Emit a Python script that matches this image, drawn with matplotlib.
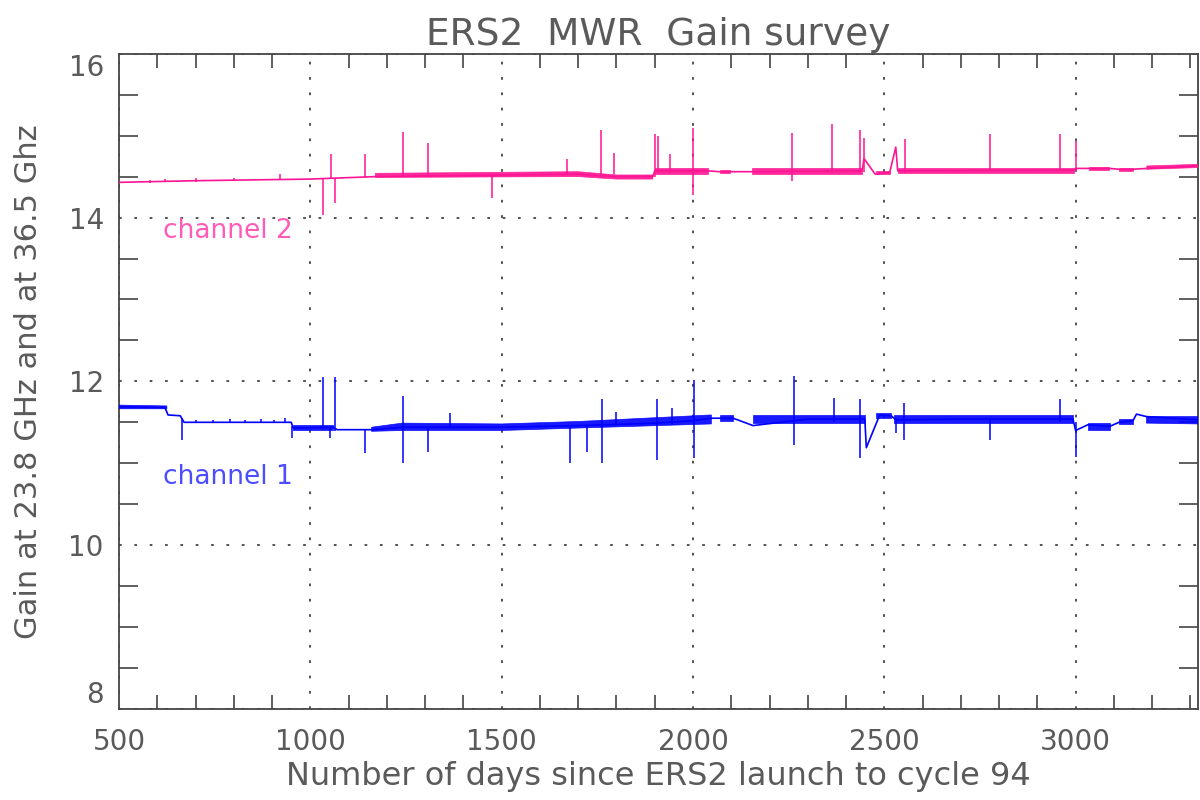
import numpy as np
import matplotlib
matplotlib.use('Agg')
import matplotlib.pyplot as plt
from matplotlib.ticker import MultipleLocator

# ---- data ----
# channel 1 (23.8 GHz) base trace
ch1_days = [500, 620, 628, 660, 670, 950, 955, 1060, 1070, 1140, 1160, 1240, 1500, 1700,
            1900, 2000, 2048, 2070, 2105, 2157, 2300, 2449, 2453, 2488, 2518, 2530, 2700,
            2993, 3000, 3032, 3089, 3113, 3150, 3159, 3185, 3320]
ch1_gain = [11.69, 11.68, 11.59, 11.58, 11.50, 11.50, 11.43, 11.44, 11.41, 11.41, 11.41,
            11.44, 11.44, 11.46, 11.49, 11.52, 11.55, 11.55, 11.55, 11.46, 11.54, 11.54,
            11.19, 11.59, 11.58, 11.53, 11.54, 11.54, 11.40, 11.47, 11.45, 11.50, 11.52,
            11.60, 11.57, 11.53]

# channel 1 noise band (nan = gap)
ch1_band_days = [500, 625, np.nan, 955, 1060, np.nan, 1160, 1240, 1500,
                 1700, 2048, np.nan, 2070, 2105, np.nan, 2157, 2449, np.nan, 2478, 2518,
                 np.nan, 2526, 2993, np.nan, 3032, 3089, np.nan, 3113, 3150, np.nan, 3185, 3320]
ch1_band_lo = [11.665, 11.665, np.nan, 11.41, 11.41, np.nan, 11.39,
               11.40, 11.40, 11.43, 11.48, np.nan, 11.51, 11.51, np.nan, 11.49, 11.49,
               np.nan, 11.55, 11.55, np.nan, 11.49, 11.49, np.nan, 11.41, 11.41, np.nan,
               11.48, 11.48, np.nan, 11.49, 11.48]
ch1_band_hi = [11.71, 11.70, np.nan, 11.47, 11.47, np.nan, 11.44,
               11.49, 11.48, 11.51, 11.59, np.nan, 11.59, 11.59, np.nan, 11.59, 11.59,
               np.nan, 11.61, 11.61, np.nan, 11.59, 11.59, np.nan, 11.49, 11.49, np.nan,
               11.54, 11.54, np.nan, 11.57, 11.57]

# channel 1 spikes
ch1_spike_days = [665, 700, 745, 790, 830, 870, 905, 935, 952, 1033, 1051, 1064, 1142, 1242,
                  1307, 1364, 1678, 1722, 1761, 1800, 1905, 1946, 2003, 2264, 2368, 2437,
                  2531, 2552, 2775, 2958, 3000]
ch1_spike_lo = [11.29, 11.50, 11.50, 11.50, 11.50, 11.50, 11.50, 11.50, 11.31, 11.42, 11.31,
                11.40, 11.12, 11.00, 11.14, 11.44, 11.00, 11.14, 11.00, 11.46, 11.04, 11.48,
                11.07, 11.22, 11.50, 11.07, 11.37, 11.29, 11.29, 11.50, 11.08]
ch1_spike_hi = [11.55, 11.53, 11.53, 11.54, 11.53, 11.54, 11.53, 11.55, 11.45, 12.05, 11.44,
                12.05, 11.41, 11.82, 11.44, 11.61, 11.44, 11.46, 11.78, 11.63, 11.79, 11.67,
                12.02, 12.07, 11.80, 11.78, 11.55, 11.73, 11.54, 11.78, 11.50]

# channel 2 (36.5 GHz) base trace
ch2_days = [500, 700, 1000, 1170, 1500, 1704, 1720, 1800, 1895, 1900, 2039, 2070, 2096, 2153,
            2442, 2447, 2476, 2514, 2530, 2535, 2995, 3000, 3036, 3088, 3113, 3150, 3186, 3320]
ch2_gain = [14.43, 14.45, 14.47, 14.50, 14.52, 14.53, 14.52, 14.50, 14.50, 14.57, 14.57,
            14.56, 14.56, 14.56, 14.57, 14.72, 14.53, 14.55, 14.86, 14.57, 14.58, 14.60,
            14.60, 14.60, 14.59, 14.59, 14.60, 14.63]

ch2_band_days = [1170, 1700, 1800, 1895, np.nan, 1900, 2039, np.nan, 2070, 2096,
                 np.nan, 2153, 2442, np.nan, 2478, 2514, np.nan, 2535, 2995, np.nan, 3036,
                 3088, np.nan, 3113, 3150, np.nan, 3186, 3320]
ch2_band_lo = [14.49, 14.50, 14.47, 14.47, np.nan, 14.53, 14.53, np.nan,
               14.54, 14.54, np.nan, 14.53, 14.53, np.nan, 14.53, 14.53, np.nan, 14.54,
               14.54, np.nan, 14.58, 14.58, np.nan, 14.57, 14.57, np.nan, 14.59, 14.61]
ch2_band_hi = [14.54, 14.56, 14.52, 14.52, np.nan, 14.60, 14.60, np.nan,
               14.58, 14.58, np.nan, 14.60, 14.60, np.nan, 14.57, 14.57, np.nan, 14.60,
               14.60, np.nan, 14.62, 14.62, np.nan, 14.61, 14.61, np.nan, 14.63, 14.65]

ch2_spike_days = [580, 620, 700, 800, 920, 1032, 1053, 1064, 1142, 1242, 1307, 1474, 1672,
                  1760, 1793, 1900, 1908, 1939, 2000, 2258, 2362, 2437, 2447, 2553, 2775,
                  2959, 3000]
ch2_spike_lo = [14.42, 14.43, 14.44, 14.45, 14.47, 14.03, 14.48, 14.18, 14.48, 14.50, 14.50,
                14.24, 14.53, 14.53, 14.53, 14.50, 14.55, 14.55, 14.27, 14.45, 14.55, 14.56,
                14.56, 14.56, 14.57, 14.57, 14.57]
ch2_spike_hi = [14.46, 14.47, 14.48, 14.48, 14.53, 14.48, 14.77, 14.48, 14.77, 15.05, 14.91,
                14.52, 14.72, 15.07, 14.79, 15.02, 15.00, 14.77, 15.09, 15.03, 15.14, 15.07,
                14.97, 14.96, 15.02, 15.02, 14.93]

BLUE = '#0000ff'
PINK = '#ff1493'
GREY = '#5a5a5a'

plt.rcParams['font.family'] = ['DejaVu Sans']

fig = plt.figure(figsize=(12, 8), dpi=100)
ax = fig.add_axes([0.0992, 0.1138, 0.8992, 0.819])

for days, gain, bd, blo, bhi, sd, slo, shi, col in [
        (ch1_days, ch1_gain, ch1_band_days, ch1_band_lo, ch1_band_hi,
         ch1_spike_days, ch1_spike_lo, ch1_spike_hi, BLUE),
        (ch2_days, ch2_gain, ch2_band_days, ch2_band_lo, ch2_band_hi,
         ch2_spike_days, ch2_spike_lo, ch2_spike_hi, PINK)]:
    ax.plot(days, gain, color=col, lw=1.2, zorder=3)
    ax.fill_between(bd, blo, bhi, color=col, lw=0.5, edgecolor=col, alpha=0.9, zorder=3)
    ax.vlines(sd, slo, shi, color=col, lw=1.1, zorder=3)

ax.text(615, 13.83, 'channel 2', color='#ff5cb8', fontsize=19, va='center', ha='left')
ax.text(615, 10.83, 'channel 1', color='#4d4dff', fontsize=19, va='center', ha='left')

ax.set_xlim(500, 3320)
ax.set_ylim(8, 16)
ax.xaxis.set_major_locator(MultipleLocator(500))
ax.xaxis.set_minor_locator(MultipleLocator(100))
ax.yaxis.set_major_locator(MultipleLocator(2))
ax.yaxis.set_minor_locator(MultipleLocator(0.5))
ax.tick_params(which='major', length=0, labelsize=20, labelcolor=GREY)
ax.tick_params(axis='x', which='major', pad=14)
ax.tick_params(axis='y', which='major', pad=11)
ax.tick_params(which='minor', direction='in', top=True, right=True, color='#444444')
ax.tick_params(axis='x', which='minor', length=10, width=1.2)
ax.tick_params(axis='y', which='minor', length=14, width=1.2)
ax.grid(True, which='major', linestyle=(0, (1.5, 7)), color='#444444', lw=1.3)

for sp in ax.spines.values():
    sp.set_color('#444444')
    sp.set_linewidth(1.3)

fig.canvas.draw()
for lab in ax.get_yticklabels():
    if lab.get_text() == '16':
        lab.set_va('top')
    elif lab.get_text() == '8':
        lab.set_va('bottom')

ax.set_title('ERS2  MWR  Gain survey', fontsize=27, color=GREY, pad=6)
ax.set_xlabel('Number of days since ERS2 launch to cycle 94', fontsize=23,
              color=GREY, labelpad=3)
ax.set_ylabel('Gain at 23.8 GHz and at 36.5 Ghz', fontsize=22, color=GREY, labelpad=18)

fig.savefig('out.png', dpi=100)
